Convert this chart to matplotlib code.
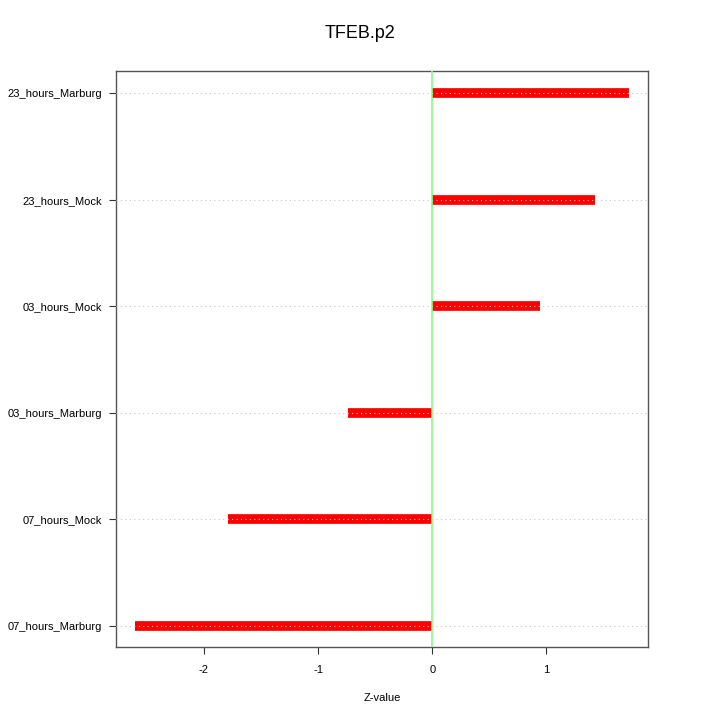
import matplotlib
matplotlib.use("Agg")
import matplotlib.pyplot as plt

categories = ["07_hours_Marburg", "07_hours_Mock", "03_hours_Marburg",
              "03_hours_Mock", "23_hours_Mock", "23_hours_Marburg"]
zvalues = [-2.60, -1.79, -0.74, 0.94, 1.43, 1.72]
xticks = [-2, -1, 0, 1]

plt.rcParams['font.family'] = ['Liberation Sans', 'DejaVu Sans']
fig = plt.figure(figsize=(7.2, 7.2), dpi=100)
ax = fig.add_axes([116/720, 73/720, 532/720, 576/720])

ypos = list(range(1, len(categories) + 1))
for y in ypos:
    ax.axhline(y, color="#c8c8c8", lw=0.8, ls=(0, (1, 3)), zorder=3)
ax.hlines(ypos, 0, zvalues, color="red", lw=7, zorder=2)
ax.axvline(0, color="#80ff80", lw=1.2, zorder=4)

ax.set_xlim(-2.77, 1.89)
ax.set_ylim(0.80, 6.21)
ax.set_yticks(ypos)
ax.set_yticklabels(categories, fontsize=8)
ax.set_xticks(xticks)
ax.set_xticklabels([str(t) for t in xticks], fontsize=8)
ax.tick_params(axis="both", length=5, width=0.8, color="#333333")
ax.tick_params(axis="x", pad=8)
ax.tick_params(axis="y", pad=5)
for s in ax.spines.values():
    s.set_color("#555555")
    s.set_linewidth(1.0)
ax.set_xlabel("Z-value", fontsize=8, labelpad=13)
fig.suptitle("TFEB.p2", y=1 - 33/720, va="center", fontsize=13)
fig.savefig("out.png", dpi=100)
